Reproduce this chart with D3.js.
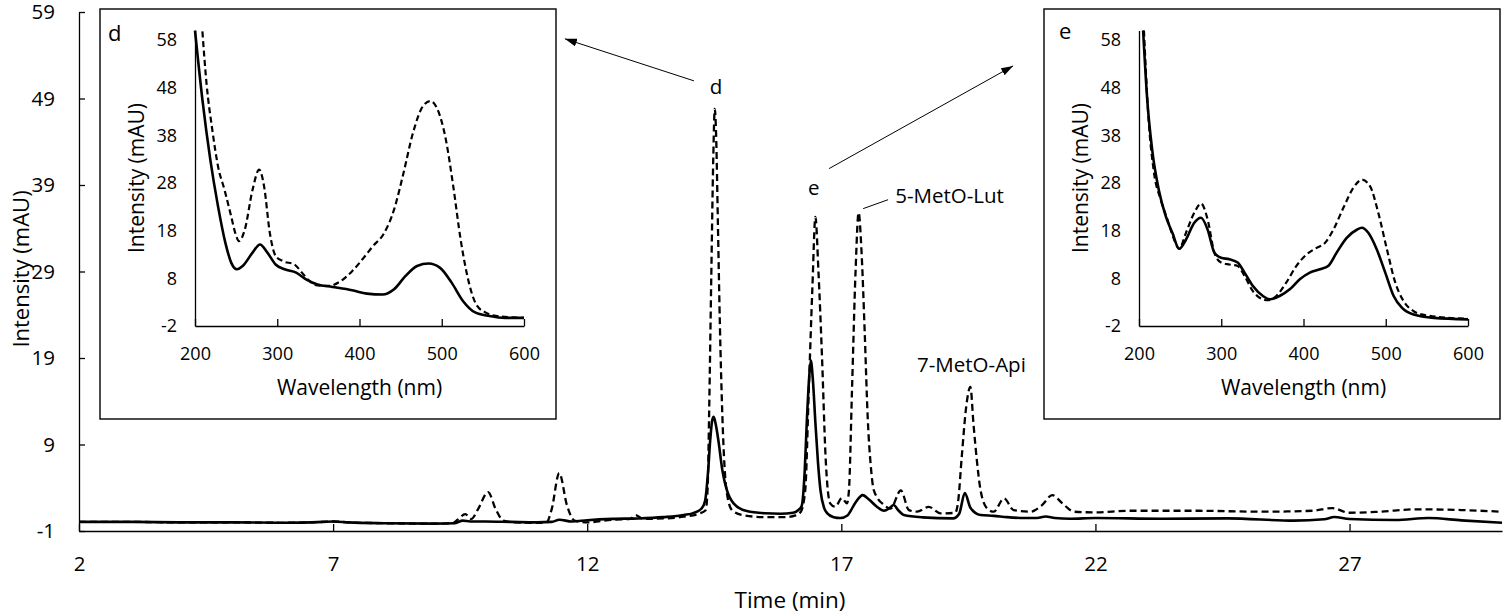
<!DOCTYPE html>
<html><head><meta charset="utf-8">
<script src="https://cdn.jsdelivr.net/npm/d3@7"></script>
<style>
body{margin:0;background:#fff}
svg{display:block}
text{font-family:"Open Sans",sans-serif;fill:#000}
</style>
</head><body>
<svg id="chart" width="1505" height="614"></svg>
<script>
// ---------- tick values ----------
const timeTicks = [2, 7, 12, 17, 22, 27];
const intensityTicks = [-1, 9, 19, 29, 39, 49, 59];
const wavelengthTicks = [200, 300, 400, 500, 600];
const insetIntensityTicks = [-2, 8, 18, 28, 38, 48, 58];

// ---------- chromatogram: [time (min), intensity (mAU)] ----------
const solidTrace = [
 [2,0.05],[3,0.05],[4,0],[5,0],[6,-0.05],[6.8,0.05],[7,0.1],[7.3,0],[8,-0.1],[9,-0.15],[9.4,-0.1],
 [9.55,0.2],[9.7,0.1],[10,0.1],[10.5,0.05],[11,0],[11.3,0.05],[11.45,0.3],[11.7,0.1],[12,0.25],
 [12.5,0.4],[13,0.45],[13.5,0.6],[13.9,0.85],[14.1,1.1],[14.25,1.6],[14.32,2.5],[14.38,6],[14.42,9.5],
 [14.46,11.8],[14.49,12.2],[14.53,11.3],[14.58,9.5],[14.66,6],[14.75,3.7],[14.88,2.2],[15.14,1.3],
 [15.5,1.05],[15.8,1],[16.05,1.1],[16.15,1.4],[16.22,1.9],[16.28,6],[16.32,11.5],[16.37,17],[16.4,18.7],
 [16.44,16.5],[16.49,11.5],[16.54,7],[16.59,3.7],[16.66,1.7],[16.72,1.07],[16.85,0.6],[16.98,0.5],
 [17.12,0.8],[17.28,2.3],[17.42,3.15],[17.55,2.6],[17.7,1.8],[17.84,1.34],[17.95,1.65],[18.03,2],
 [18.12,1.4],[18.23,0.85],[18.6,0.58],[19.2,0.46],[19.32,1],[19.43,3.4],[19.54,1.7],[19.74,0.85],
 [20,0.75],[20.26,0.6],[20.6,0.5],[20.85,0.5],[21.02,0.68],[21.2,0.5],[21.5,0.42],[22,0.5],
 [23.3,0.42],[24.6,0.46],[25.9,0.2],[26.5,0.35],[26.7,0.62],[27,0.38],[27.9,0.27],[28.56,0.5],
 [29.2,0.23],[30,-0.05]
];
const dashedTrace = [
 [2,0.05],[3,0.05],[4,0],[5,0],[6,-0.05],[6.8,0.05],[7,0.1],[7.3,0],[8,-0.1],[9,-0.15],[9.35,-0.1],
 [9.45,0.3],[9.6,0.95],[9.72,0.4],[9.85,1.5],[10.05,3.5],[10.2,1.5],[10.35,0.2],[10.6,0],[11,-0.05],
 [11.2,0],[11.3,1.5],[11.45,5.7],[11.6,2],[11.75,0.2],[12,0],[12.5,0.3],[12.85,0.4],[12.95,0.85],
 [13.1,0.4],[13.5,0.45],[13.9,0.65],[14.2,1],[14.33,1.4],[14.37,4],[14.4,13],[14.44,28],[14.48,42],
 [14.51,47.8],[14.54,44],[14.57,35],[14.61,23],[14.66,12.2],[14.74,3.7],[14.85,1.4],[15.05,0.85],
 [15.5,0.6],[15.9,0.6],[16.1,0.8],[16.2,1.2],[16.29,3.7],[16.36,15.3],[16.43,27],[16.49,35.3],
 [16.55,29],[16.62,19.1],[16.69,7.6],[16.78,2.2],[16.88,1.8],[17.01,2.8],[17.11,2.2],[17.15,3.7],
 [17.21,15.3],[17.28,29],[17.34,35.8],[17.4,31],[17.46,22],[17.52,12],[17.58,6.5],[17.64,3.7],
 [17.84,2],[17.97,1.6],[18.17,3.7],[18.33,1.42],[18.49,1.23],[18.72,1.8],[18.95,1.04],[19.24,1.1],
 [19.3,2.5],[19.37,7.6],[19.46,13.5],[19.54,15.65],[19.6,11.4],[19.67,7],[19.74,3.7],[19.87,1.6],
 [20,1.23],[20.2,2.77],[20.39,1.42],[20.72,1.23],[20.95,2],[21.15,3.15],[21.35,2.2],[21.58,1.23],
 [22,1.15],[22.66,1.34],[23.97,1.34],[25.28,1.23],[26.27,1.34],[26.66,1.65],[26.99,1.11],
 [27.58,1.23],[28.3,1.5],[29.22,1.42],[30,1.23]
];

// ---------- UV-Vis spectra: [wavelength (nm), intensity (mAU)] ----------
const spectrumDSolid = [
 [200,60],[209,45.5],[218.6,32.9],[228,23.1],[237,15.4],[244,11.3],[251,9.9],[258,10.6],[270,13.4],
 [279,15.1],[288,13.4],[298,10.9],[309,9.9],[323,9.2],[335,7.8],[349,6.7],[367,6.2],[391,5.5],
 [409,4.8],[428,4.6],[442,5.7],[456,8.5],[470,10.6],[484,11.1],[498,10.2],[512,7.1],[526,3.2],
 [540,0.9],[558,0.1],[577,-0.3],[600,-0.3]
];
const spectrumDDashed = [
 [209,59.8],[214,48.9],[221,39.2],[228,31.5],[236,26.5],[244,21],[249,17.5],[253.5,15.8],[260.5,18.2],
 [270,26.6],[278,30.8],[284,27.3],[291,17.5],[298,12.7],[307,11.6],[321,10.9],[330,9.2],[339.5,7.4],
 [349,6.5],[363,6.4],[377,7.4],[391,9.5],[405,12.3],[416,14.7],[430,17.5],[442,22.4],[453.5,30.1],
 [465,38.5],[477,44.1],[486,45.2],[495,43.4],[505,37.1],[514,27.3],[523,16.1],[533,7.1],[542,2.5],
 [553.5,0.8],[567,0.1],[600,-0.3]
];
const spectrumESolid = [
 [205,60],[210,45.5],[216,35],[224,26.6],[232.6,21],[240.7,17.5],[248.9,14.2],[257,16.1],[267,19.6],
 [275.4,20.7],[283.5,18.2],[291.6,13.4],[299.8,12.3],[310,12],[320,11.3],[328.3,9.2],[338.5,6.4],
 [350.7,4.3],[358.9,3.6],[371,4.3],[383.3,5.7],[395.5,7.8],[407.7,9.2],[420,9.9],[430,10.6],
 [440.3,13.4],[452.5,16.5],[464.8,18.2],[471,18.6],[479,17.5],[489,14.1],[499.4,9.2],[509.6,4.3],
 [519.8,1.8],[534,0.4],[558.5,-0.3],[600,-0.6]
];
const spectrumEDashed = [
 [206,60],[211.4,42],[218.3,30.1],[226.5,24.5],[234.6,20.3],[242.8,16.1],[248.9,14.2],[257,17.5],
 [267,21.7],[275.4,23.7],[283.5,20.3],[291.6,13.4],[299.8,11.3],[310,10.9],[320,10.6],[328.3,8.5],
 [338.5,5.3],[350.7,3.6],[356.8,3.4],[367,4.3],[379,7.1],[391.4,10.6],[403.7,13],[416,14.4],
 [426,15.4],[436.3,18.2],[448.5,22.8],[460.7,27],[471,28.7],[481,27.3],[491,21.7],[501.4,14.1],
 [511.6,7.1],[521.8,3.2],[534,1.1],[550,0.2],[600,-0.5]
];

// ---------- texts ----------
const peakNames = ["d", "e", "5-MetO-Lut", "7-MetO-Api"];
const panelNames = ["d", "e"];

// ---------- layout ----------
const svg = d3.select("#chart");
const x = d3.scaleLinear().domain([2, 30]).range([79, 1502]);
const y = d3.scaleLinear().domain([-1, 59]).range([531, 12]);
const line = (xs, ys) => d3.line().x(d => xs(d[0])).y(d => ys(d[1])).curve(d3.curveMonotoneX);
const plain = d => String(d);   // keeps the hyphen-minus of the original labels

svg.append("defs").append("marker")
  .attr("id", "arrow").attr("viewBox", "0 0 10 10").attr("refX", 10).attr("refY", 5)
  .attr("markerWidth", 12).attr("markerHeight", 8).attr("markerUnits", "userSpaceOnUse")
  .attr("preserveAspectRatio", "none").attr("orient", "auto")
  .append("path").attr("d", "M0,0L10,5L0,10Z").attr("fill", "#000");

function styleAxis(g, size) {
  g.attr("font-family", null).attr("font-size", null);
  g.selectAll("path,line").attr("stroke", "#000").attr("stroke-width", 1.3);
  g.selectAll("text").style("font-size", size + "px").attr("fill", "#000");
}

// main axes
svg.append("g").attr("transform", "translate(0,531)")
  .call(d3.axisBottom(x).tickValues(timeTicks).tickSizeInner(-7).tickSizeOuter(0).tickPadding(25).tickFormat(plain))
  .call(g => styleAxis(g, 20.5));
svg.append("g").attr("transform", "translate(79,0)")
  .call(d3.axisLeft(y).tickValues(intensityTicks).tickSizeInner(-6).tickSizeOuter(0).tickPadding(24).tickFormat(plain))
  .call(g => styleAxis(g, 20.5));

svg.append("text").attr("x", 790).attr("y", 608).attr("text-anchor", "middle")
  .style("font-size", "22.5px").text("Time (min)");
svg.append("text").attr("transform", "translate(29,269) rotate(-90)").attr("text-anchor", "middle")
  .style("font-size", "22px").text("Intensity (mAU)");

// main traces
svg.append("path").datum(dashedTrace).attr("d", line(x, y)).attr("fill", "none")
  .attr("stroke", "#000").attr("stroke-width", 2.3).attr("stroke-dasharray", "7,4");
svg.append("path").datum(solidTrace).attr("d", line(x, y)).attr("fill", "none")
  .attr("stroke", "#000").attr("stroke-width", 2.6);

// peak annotations (placed in chart coordinates)
const annot = svg.append("g").style("font-size", "20.5px");
annot.append("text").attr("x", x(14.535)).attr("y", y(49.57)).attr("text-anchor", "middle").text(peakNames[0]);
annot.append("text").attr("x", x(16.46)).attr("y", y(37.9)).attr("text-anchor", "middle").text(peakNames[1]);
annot.append("text").attr("x", x(18.06)).attr("y", y(36.9)).text(peakNames[2]);
annot.append("text").attr("x", x(18.49)).attr("y", y(17.35)).text(peakNames[3]);
svg.append("line").attr("x1", x(17.43)).attr("y1", y(36.27)).attr("x2", x(17.92)).attr("y2", y(37.3))
  .attr("stroke", "#000").attr("stroke-width", 1);
svg.append("line").attr("x1", x(14.10)).attr("y1", y(51.04)).attr("x2", x(11.56)).attr("y2", y(55.9))
  .attr("stroke", "#000").attr("stroke-width", 1).attr("marker-end", "url(#arrow)");
svg.append("line").attr("x1", x(16.76)).attr("y1", y(40.9)).attr("x2", x(20.38)).attr("y2", y(52.77))
  .attr("stroke", "#000").attr("stroke-width", 1).attr("marker-end", "url(#arrow)");

// insets
function inset(bx, solid, dashed, name, letterDx, letterY) {
  const g = svg.append("g");
  g.append("rect").attr("x", bx).attr("y", 9).attr("width", 456).attr("height", 410)
    .attr("fill", "#fff").attr("stroke", "#000").attr("stroke-width", 1.4);
  const xs = d3.scaleLinear().domain([200, 600]).range([bx + 95, bx + 424]);
  const ys = d3.scaleLinear().domain([-2, 60]).range([326, 30.5]);
  g.append("g").attr("transform", `translate(0,${ys(-2)})`)
    .call(d3.axisBottom(xs).tickValues(wavelengthTicks).tickSizeInner(-7).tickSizeOuter(0).tickPadding(21).tickFormat(plain))
    .call(a => styleAxis(a, 18));
  g.append("g").attr("transform", `translate(${xs(200)},0)`)
    .call(d3.axisLeft(ys).tickValues(insetIntensityTicks).tickSizeInner(0).tickSizeOuter(0).tickPadding(18).tickFormat(plain))
    .call(a => styleAxis(a, 18));
  g.append("path").datum(dashed).attr("d", line(xs, ys)).attr("fill", "none")
    .attr("stroke", "#000").attr("stroke-width", 2.2).attr("stroke-dasharray", "6,3.5");
  g.append("path").datum(solid).attr("d", line(xs, ys)).attr("fill", "none")
    .attr("stroke", "#000").attr("stroke-width", 2.6);
  g.append("text").attr("x", (xs(200) + xs(600)) / 2).attr("y", 394.5).attr("text-anchor", "middle")
    .style("font-size", "21px").text("Wavelength (nm)");
  g.append("text").attr("transform", `translate(${bx + 44},178) rotate(-90)`).attr("text-anchor", "middle")
    .style("font-size", "21px").text("Intensity (mAU)");
  g.append("text").attr("x", bx + letterDx).attr("y", letterY).style("font-size", "22px").text(name);
}
inset(100, spectrumDSolid, spectrumDDashed, panelNames[0], 8, 41);
inset(1044, spectrumESolid, spectrumEDashed, panelNames[1], 15, 39);
</script>
</body></html>
